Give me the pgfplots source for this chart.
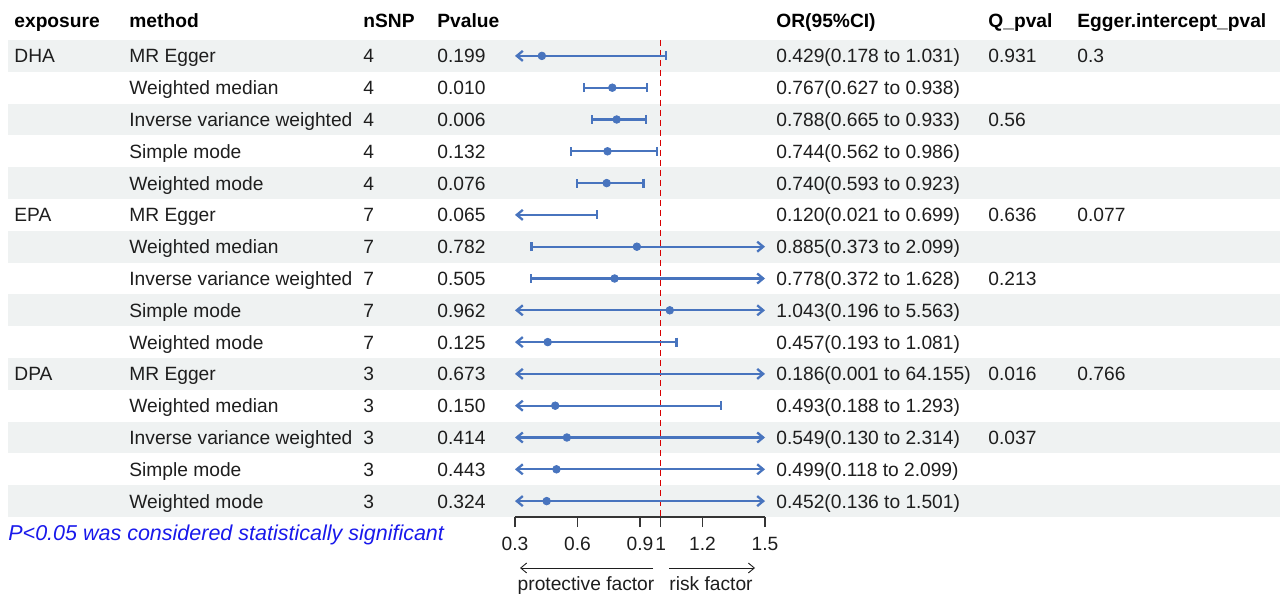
\documentclass[border=0pt]{standalone}
\usepackage{pgfplots}
\pgfplotsset{compat=1.18}
\usepackage{fontspec}
\setmainfont{Liberation Sans}
\usetikzlibrary{arrows.meta}
\definecolor{band}{RGB}{239,242,242}
\definecolor{ci}{RGB}{72,116,190}
\definecolor{txt}{RGB}{30,30,30}
\definecolor{sig}{RGB}{25,25,235}
\newcommand{\fs}{\fontsize{9.6pt}{11pt}\selectfont}
\begin{document}
\begin{tikzpicture}
\begin{scope}[x=0.5pt, y=-0.5pt]
\path (0,0) rectangle (1280,597);
% bands on odd rows
\foreach \i in {1,3,...,15}{
  \pgfmathsetmacro{\yc}{56+(\i-1)*31.79}
  \fill[band] (8,\yc-15.9) rectangle (1280,\yc+15.9);
}
% header
\foreach \x/\t in {14/exposure,129/method,363/nSNP,437/Pvalue,776/OR(95\%CI),988/Q\_pval,1077/Egger.intercept\_pval}{
  \node[anchor=base west, inner sep=0pt, font=\fs\bfseries, text=black] at (\x,28) {\t};
}
% rows
\foreach \i/\e/\m/\n/\p/\o/\q/\g in {
 1/DHA/MR Egger/4/0.199/0.429(0.178 to 1.031)/0.931/0.3,
 2//Weighted median/4/0.010/0.767(0.627 to 0.938)//,
 3//Inverse variance weighted/4/0.006/0.788(0.665 to 0.933)/0.56/,
 4//Simple mode/4/0.132/0.744(0.562 to 0.986)//,
 5//Weighted mode/4/0.076/0.740(0.593 to 0.923)//,
 6/EPA/MR Egger/7/0.065/0.120(0.021 to 0.699)/0.636/0.077,
 7//Weighted median/7/0.782/0.885(0.373 to 2.099)//,
 8//Inverse variance weighted/7/0.505/0.778(0.372 to 1.628)/0.213/,
 9//Simple mode/7/0.962/1.043(0.196 to 5.563)//,
 10//Weighted mode/7/0.125/0.457(0.193 to 1.081)//,
 11/DPA/MR Egger/3/0.673/0.186(0.001 to 64.155)/0.016/0.766,
 12//Weighted median/3/0.150/0.493(0.188 to 1.293)//,
 13//Inverse variance weighted/3/0.414/0.549(0.130 to 2.314)/0.037/,
 14//Simple mode/3/0.443/0.499(0.118 to 2.099)//,
 15//Weighted mode/3/0.324/0.452(0.136 to 1.501)//}{
  \pgfmathsetmacro{\yb}{56+(\i-1)*31.79+7}
  \node[anchor=base west, inner sep=0pt, font=\fs, text=txt] at (14,\yb) {\e};
  \node[anchor=base west, inner sep=0pt, font=\fs, text=txt] at (129,\yb) {\m};
  \node[anchor=base west, inner sep=0pt, font=\fs, text=txt] at (363,\yb) {\n};
  \node[anchor=base west, inner sep=0pt, font=\fs, text=txt] at (437,\yb) {\p};
  \node[anchor=base west, inner sep=0pt, font=\fs, text=txt] at (776,\yb) {\o};
  \node[anchor=base west, inner sep=0pt, font=\fs, text=txt] at (988,\yb) {\q};
  \node[anchor=base west, inner sep=0pt, font=\fs, text=txt] at (1077,\yb) {\g};
}
\node[anchor=base west, inner sep=0pt, font=\fontsize{10.75pt}{12pt}\selectfont\itshape, text=sig] at (8,540.5) {P<0.05 was considered statistically significant};
% direction arrows
\draw[-{Straight Barb[length=3pt,width=5pt]}, line width=0.45pt, draw=txt] (653,568) -- (520,568);
\draw[-{Straight Barb[length=3pt,width=5pt]}, line width=0.45pt, draw=txt] (669,568) -- (755,568);
\node[anchor=base, inner sep=0pt, font=\fs, text=txt] at (586,591) {protective factor};
\node[anchor=base, inner sep=0pt, font=\fs, text=txt] at (711,591) {risk factor};
\end{scope}
% forest axis
\begin{axis}[at={(257.5pt,-258.5pt)}, anchor=south west,
  scale only axis, width=125pt, height=238.5pt,
  xmin=0.3, xmax=1.5, ymin=0.5, ymax=15.5, y dir=reverse,
  axis x line*=bottom, axis y line=none,
  x axis line style={-, draw=txt!90, line width=0.6pt},
  xtick={0.3,0.6,0.9,1,1.2,1.5},
  xticklabels={0.3,0.6,0.9,1,1.2,1.5},
  tick align=outside, major tick length=5pt,
  tick style={draw=txt!90, line width=0.6pt},
  xticklabel style={font=\fs, text=txt, yshift=-1.5pt},
  /pgf/number format/assume math mode=true,
  clip=false]
\draw[red!85!black, line width=0.5pt, dash pattern=on 3pt off 2pt] (axis cs:1,0.5) -- (axis cs:1,15.5);
\tikzset{
  ll/.style={line width=1.15pt, draw=ci},
  LA/.style={ll, arrows={{Straight Barb[length=3pt,width=5pt]}-{Bar[width=4.5pt]}}},
  BB/.style={ll, arrows={{Bar[width=4.5pt]}-{Bar[width=4.5pt]}}},
  BR/.style={ll, arrows={{Bar[width=4.5pt]}-{Straight Barb[length=3pt,width=5pt]}}},
  AA/.style={ll, arrows={{Straight Barb[length=3pt,width=5pt]}-{Straight Barb[length=3pt,width=5pt]}}},
}
% CI segments (ends beyond 0.3 or 1.5 shown as arrows at the limit)
\addplot[LA] coordinates {(0.3,1) (1.031,1)};
\addplot[BB] coordinates {(0.627,2) (0.938,2)};
\addplot[BB] coordinates {(0.665,3) (0.933,3)};
\addplot[BB] coordinates {(0.562,4) (0.986,4)};
\addplot[BB] coordinates {(0.593,5) (0.923,5)};
\addplot[LA] coordinates {(0.3,6) (0.699,6)};
\addplot[BR] coordinates {(0.373,7) (1.5,7)};
\addplot[BR] coordinates {(0.372,8) (1.5,8)};
\addplot[AA] coordinates {(0.3,9) (1.5,9)};
\addplot[LA] coordinates {(0.3,10) (1.081,10)};
\addplot[AA] coordinates {(0.3,11) (1.5,11)};
\addplot[LA] coordinates {(0.3,12) (1.293,12)};
\addplot[AA] coordinates {(0.3,13) (1.5,13)};
\addplot[AA] coordinates {(0.3,14) (1.5,14)};
\addplot[AA] coordinates {(0.3,15) (1.5,15)};
% point estimates
\addplot[only marks, mark=*, mark size=1.9pt, color=ci, restrict x to domain=0.3:1.5] coordinates {
(0.429,1) (0.767,2) (0.788,3) (0.744,4) (0.740,5)
(0.120,6) (0.885,7) (0.778,8) (1.043,9) (0.457,10)
(0.186,11) (0.493,12) (0.549,13) (0.499,14) (0.452,15)};
\end{axis}
\end{tikzpicture}
\end{document}
